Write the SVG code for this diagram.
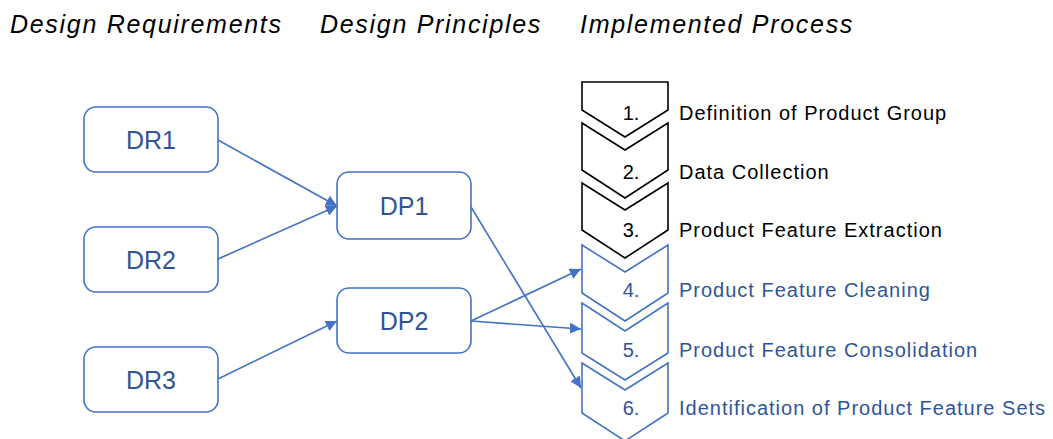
<svg xmlns="http://www.w3.org/2000/svg" width="1053" height="439" viewBox="0 0 1053 439">
  <defs>
    <style>
      .hdr { font-family: "Liberation Sans", Arial, sans-serif; font-style: italic; font-size: 25px; letter-spacing: 1.7px; fill: #000; }
      .box { fill: #fff; stroke: #4472C4; stroke-width: 1.6; }
      .boxtxt { font-family: "Liberation Sans", Arial, sans-serif; font-size: 25px; fill: #2F5597; text-anchor: middle; dominant-baseline: central; }
      .chev { fill: #fff; stroke-width: 1.6; stroke-linejoin: miter; }
      .chev-black { stroke: #000; }
      .chev-blue { stroke: #4472C4; }
      .lbl { font-family: "Liberation Sans", Arial, sans-serif; font-size: 20px; letter-spacing: 1px; }
      .num { font-family: "Liberation Sans", Arial, sans-serif; font-size: 20px; text-anchor: middle; }
      .ink-black { fill: #000; }
      .ink-blue { fill: #2F5597; }
      .conn { stroke: #4472C4; stroke-width: 1.6; fill: none; marker-end: url(#arrow); }
    </style>
    <marker id="arrow" viewBox="0 0 10 10" refX="10" refY="5" markerWidth="7" markerHeight="7" markerUnits="strokeWidth" orient="auto">
      <path d="M0,0 L10,5 L0,10 z" fill="#4472C4"/>
    </marker>
  </defs>

  <!-- column headings -->
  <text class="hdr" x="10" y="33">Design Requirements</text>
  <text class="hdr" x="320" y="33">Design Principles</text>
  <text class="hdr" x="580" y="33">Implemented Process</text>

  <!-- design requirements -->
  <g id="DR1"><rect class="box" x="84" y="107" width="134" height="65" rx="12"/><text class="boxtxt" x="151" y="140">DR1</text></g>
  <g id="DR2"><rect class="box" x="84" y="227" width="134" height="65" rx="12"/><text class="boxtxt" x="151" y="260">DR2</text></g>
  <g id="DR3"><rect class="box" x="84" y="347" width="134" height="65" rx="12"/><text class="boxtxt" x="151" y="380">DR3</text></g>

  <!-- design principles -->
  <g id="DP1"><rect class="box" x="337" y="172" width="134" height="67" rx="12"/><text class="boxtxt" x="404" y="206">DP1</text></g>
  <g id="DP2"><rect class="box" x="337" y="288" width="134" height="65" rx="12"/><text class="boxtxt" x="404" y="321">DP2</text></g>

  <!-- process steps (chevrons) -->
  <g id="step1">
    <path class="chev chev-black" d="M582,82 L668,82 L668,110 L625,137 L582,110 Z"/>
    <text class="num ink-black" x="631" y="120">1.</text>
    <text class="lbl ink-black" x="679" y="120">Definition of Product Group</text>
  </g>
  <g id="step2">
    <path class="chev chev-black" d="M582,123 L625,150 L668,123 L668,170 L625,198 L582,170 Z"/>
    <text class="num ink-black" x="631" y="179">2.</text>
    <text class="lbl ink-black" x="679" y="179">Data Collection</text>
  </g>
  <g id="step3">
    <path class="chev chev-black" d="M582,183 L625,210 L668,183 L668,230 L625,258 L582,230 Z"/>
    <text class="num ink-black" x="631" y="237">3.</text>
    <text class="lbl ink-black" x="679" y="237">Product Feature Extraction</text>
  </g>
  <g id="step4">
    <path class="chev chev-blue" d="M582,245 L625,272 L668,245 L668,293 L625,321 L582,293 Z"/>
    <text class="num ink-blue" x="631" y="297">4.</text>
    <text class="lbl ink-blue" x="679" y="297">Product Feature Cleaning</text>
  </g>
  <g id="step5">
    <path class="chev chev-blue" d="M582,303 L625,331 L668,303 L668,353 L625,380 L582,353 Z"/>
    <text class="num ink-blue" x="631" y="357">5.</text>
    <text class="lbl ink-blue" x="679" y="357">Product Feature Consolidation</text>
  </g>
  <g id="step6">
    <path class="chev chev-blue" d="M582,363 L625,390 L668,363 L668,413 L625,441 L582,413 Z"/>
    <text class="num ink-blue" x="631" y="415">6.</text>
    <text class="lbl ink-blue" x="679" y="415">Identification of Product Feature Sets</text>
  </g>

  <!-- connectors -->
  <g id="connectors">
    <line class="conn" x1="218" y1="140" x2="337" y2="206"/>
    <line class="conn" x1="218" y1="259" x2="337" y2="206"/>
    <line class="conn" x1="218" y1="379" x2="337" y2="321"/>
    <line class="conn" x1="471" y1="207" x2="581" y2="388"/>
    <line class="conn" x1="471" y1="321" x2="581" y2="269"/>
    <line class="conn" x1="471" y1="321" x2="581" y2="329"/>
  </g>
</svg>
